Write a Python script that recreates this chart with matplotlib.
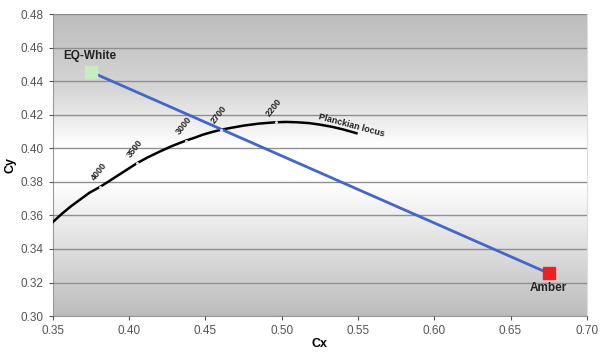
import numpy as np
import matplotlib
matplotlib.use("Agg")
import matplotlib.pyplot as plt
from matplotlib.colors import LinearSegmentedColormap

plt.rcParams['font.family'] = ['Liberation Sans', 'DejaVu Sans']

# planckian locus
locus_x = [0.350, 0.356, 0.362, 0.368, 0.374, 0.381, 0.387, 0.393, 0.399, 0.405,
           0.412, 0.420, 0.428, 0.437, 0.443, 0.448, 0.454, 0.460, 0.467, 0.475,
           0.485, 0.496, 0.503, 0.510, 0.518, 0.525, 0.533, 0.540, 0.549]
locus_y = [0.356, 0.361, 0.3655, 0.3695, 0.3735, 0.377, 0.3805, 0.384, 0.3875, 0.391,
           0.3945, 0.398, 0.4013, 0.4045, 0.4063, 0.408, 0.4096, 0.411, 0.4122, 0.4135,
           0.4147, 0.4155, 0.4157, 0.4155, 0.415, 0.4141, 0.4128, 0.4113, 0.409]

# colour temperature marks on the locus
cct_labels = ['4000', '3500', '3000', '2700', '2200']
cct_x = [0.381, 0.405, 0.437, 0.460, 0.496]
cct_y = [0.377, 0.391, 0.4045, 0.411, 0.4155]

# mixing line between the two LEDs
led_names = ['EQ-White', 'Amber']
led_x = [0.375, 0.675]
led_y = [0.4455, 0.3255]
led_colors = ['#c8ecc0', '#ee2020']

fig = plt.figure(figsize=(6, 3.6), dpi=100)
ax = fig.add_axes([0.088, 0.122, 0.89, 0.839])

# gray -> white -> gray background
cmap = LinearSegmentedColormap.from_list(
    'bg', [(0.0, '#bcbcbc'), (0.25, '#d6d6d6'), (0.44, '#ffffff'),
           (0.56, '#ffffff'), (0.78, '#dedede'), (1.0, '#bdbdbd')])
grad = np.linspace(0, 1, 256).reshape(-1, 1)
ax.imshow(grad, extent=[0.35, 0.70, 0.30, 0.48], aspect='auto', cmap=cmap,
          origin='upper', zorder=0)

ax.set_xlim(0.35, 0.70)
ax.set_ylim(0.30, 0.48)
ax.set_xticks(np.arange(0.35, 0.701, 0.05))
ax.set_yticks(np.arange(0.30, 0.481, 0.02))
ax.set_xticklabels(['%.2f' % v for v in np.arange(0.35, 0.701, 0.05)])
ax.set_yticklabels(['%.2f' % v for v in np.arange(0.30, 0.481, 0.02)])
ax.tick_params(labelsize=8.5, colors='#555555', length=3, width=0.8)
ax.grid(axis='y', color='#8f8f8f', linewidth=1.0, zorder=1)
ax.set_axisbelow(False)
ax.spines['top'].set_visible(False)
ax.spines['right'].set_color('#dddddd')
for s in ['left', 'bottom']:
    ax.spines[s].set_color('#999999')

ax.set_xlabel('Cx', fontsize=9, fontweight='bold', labelpad=1)
ax.set_ylabel('Cy', fontsize=9, fontweight='bold', labelpad=3)

ax.plot(locus_x, locus_y, color='black', linewidth=1.8, zorder=3)
ax.plot(cct_x, cct_y, linestyle='none', marker='o', markersize=2.2,
        markerfacecolor='#dddddd', markeredgecolor='none', zorder=4)
for lab, x, y in zip(cct_labels, cct_x, cct_y):
    ax.annotate(lab, (x, y), xytext=(-1, 3), textcoords='offset points',
                rotation=52, fontsize=6.5, fontweight='bold', ha='center',
                va='bottom', color='#222222', zorder=5)
ax.text(0.546, 0.4138, 'Planckian locus', rotation=-15, fontsize=6.5,
        fontweight='bold', color='#222222', ha='center', va='center', zorder=5)

ax.plot(led_x, led_y, color='#4466cc', linewidth=2, zorder=3)
for name, x, y, c in zip(led_names, led_x, led_y, led_colors):
    ax.plot(x, y, marker='s', markersize=9, color=c, zorder=6)
ax.text(0.374, 0.4515, 'EQ-White', fontsize=8.5, fontweight='bold',
        ha='center', va='bottom', color='#222222')
ax.text(0.675, 0.3205, 'Amber', fontsize=8.5, fontweight='bold',
        ha='center', va='top', color='#222222')

fig.savefig('out.png', dpi=100)
